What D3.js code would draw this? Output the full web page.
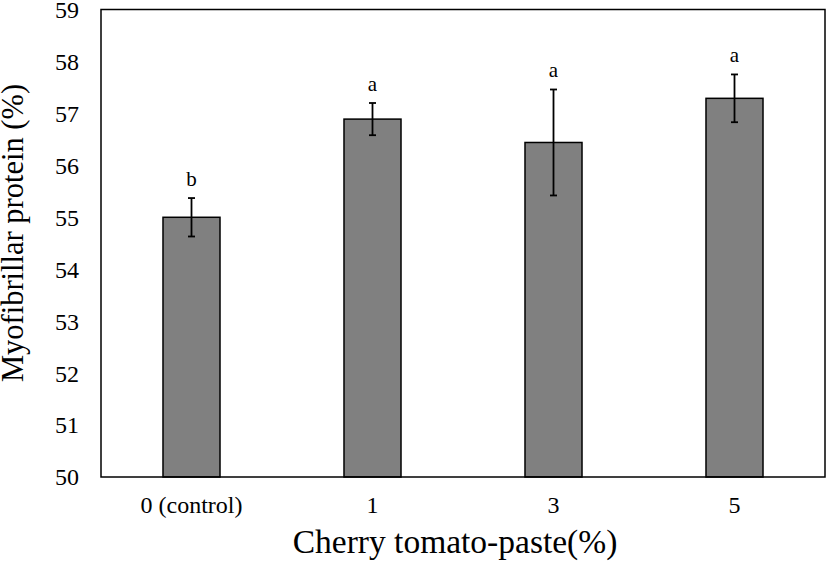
<!DOCTYPE html>
<html><head><meta charset="utf-8">
<script src="https://cdn.jsdelivr.net/npm/d3@7"></script>
<style>body{margin:0;background:#fff}svg{display:block}text{font-family:"Liberation Serif","Times New Roman",serif;fill:#000}</style>
</head><body>
<script>
const categories = ["0 (control)", "1", "3", "5"];
const values = [55.0, 56.89, 56.44, 57.29];
const errors = [0.37, 0.31, 1.02, 0.46];
const letters = ["b", "a", "a", "a"];
const yTicks = [50, 51, 52, 53, 54, 55, 56, 57, 58, 59];

const W = 827, H = 563;
const m = {left: 101, right: 2, top: 9.5, bottom: 86};
const svg = d3.select("body").append("svg").attr("width", W).attr("height", H);
const x = d3.scaleBand().domain(categories).range([m.left, W - m.right]).paddingInner(0.685).paddingOuter(0.3425);
const y = d3.scaleLinear().domain([50, 59]).range([H - m.bottom, m.top]);

const g = svg.append("g");
// bars
g.selectAll("rect.bar").data(values).enter().append("rect")
  .attr("x", (d, i) => x(categories[i])).attr("width", x.bandwidth())
  .attr("y", d => y(d)).attr("height", d => y(50) - y(d))
  .attr("fill", "#808080").attr("stroke", "#000").attr("stroke-width", 1.5);
// error bars
const eb = g.selectAll("g.eb").data(values).enter().append("g")
  .attr("transform", (d, i) => `translate(${x(categories[i]) + x.bandwidth() / 2},0)`);
eb.append("line").attr("y1", (d, i) => y(d + errors[i])).attr("y2", (d, i) => y(d - errors[i])).attr("stroke", "#000").attr("stroke-width", 1.8);
eb.append("line").attr("x1", -3.5).attr("x2", 3.5).attr("y1", (d, i) => y(d + errors[i])).attr("y2", (d, i) => y(d + errors[i])).attr("stroke", "#000").attr("stroke-width", 1.8);
eb.append("line").attr("x1", -3.5).attr("x2", 3.5).attr("y1", (d, i) => y(d - errors[i])).attr("y2", (d, i) => y(d - errors[i])).attr("stroke", "#000").attr("stroke-width", 1.8);
eb.append("text").attr("text-anchor", "middle").attr("font-size", 21)
  .attr("y", (d, i) => y(d + errors[i]) - 12).text((d, i) => letters[i]);

// frame
svg.append("rect").attr("x", m.left).attr("y", m.top).attr("width", W - m.right - m.left).attr("height", H - m.bottom - m.top)
  .attr("fill", "none").attr("stroke", "#000").attr("stroke-width", 1.5);

// axes
const ya = svg.append("g").attr("transform", `translate(${m.left},0)`)
  .call(d3.axisLeft(y).tickValues(yTicks).tickSize(0).tickPadding(22).tickFormat(d3.format("d")));
ya.select(".domain").remove();
ya.selectAll("text").attr("font-size", 24).attr("font-family", "Liberation Serif").attr("dy", "0.33em");
const xa = svg.append("g").attr("transform", `translate(0,${H - m.bottom})`)
  .call(d3.axisBottom(x).tickSize(0).tickPadding(19));
xa.select(".domain").remove();
xa.selectAll("text").attr("font-size", 24).attr("font-family", "Liberation Serif");

svg.append("text").attr("x", 455).attr("y", 553).attr("text-anchor", "middle").attr("font-size", 33.5).text("Cherry tomato-paste(%)");
svg.append("text").attr("transform", `translate(23,233) rotate(-90)`).attr("text-anchor", "middle").attr("font-size", 30.5).text("Myofibrillar protein (%)");
</script>
</body></html>
